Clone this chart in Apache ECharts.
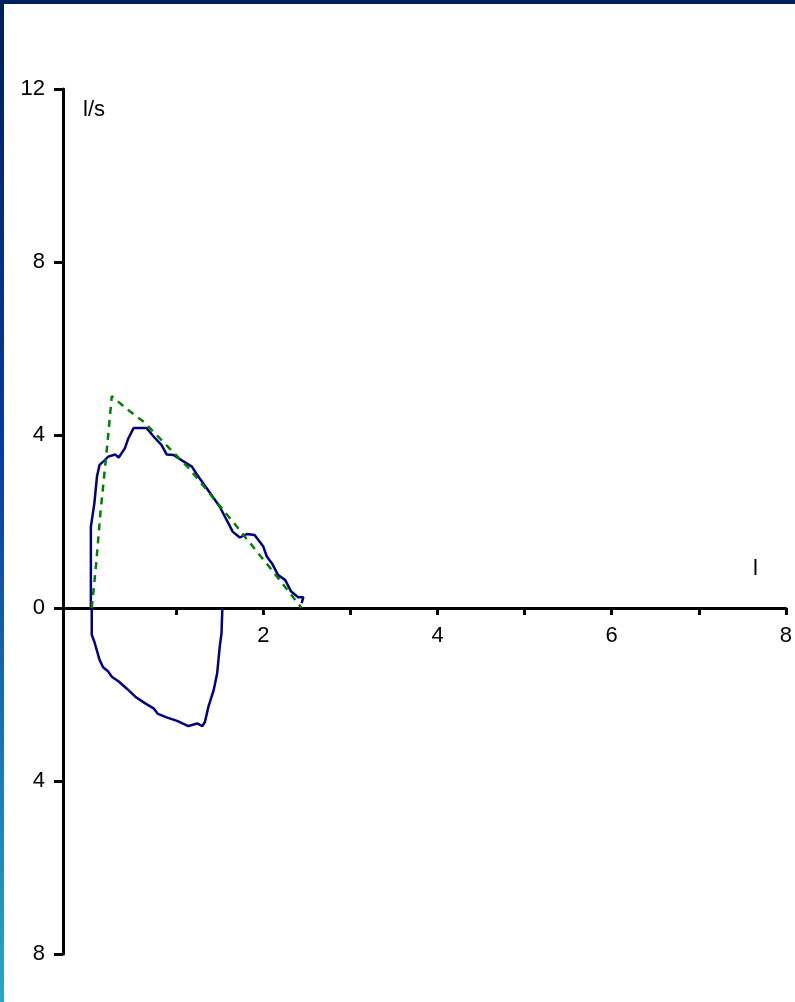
<!DOCTYPE html>
<html>
<head>
<meta charset="utf-8">
<script src="https://cdn.jsdelivr.net/npm/echarts@6/dist/echarts.min.js"></script>
<style>
  html, body { margin: 0; padding: 0; background: #fff; }
  .frame {
    position: relative;
    width: 795px;
    height: 1002px;
    box-sizing: border-box;
    border-top: 4px solid #00205c;
    border-left: 4px solid;
    border-image: linear-gradient(to bottom, #00205c 0%, #0a3aa0 45%, #2aa8c4 100%) 1;
    border-right: 0;
    border-bottom: 0;
    overflow: hidden;
  }
  #chart { position: absolute; left: -4px; top: -4px; width: 795px; height: 1002px; }
  .topbar { position: absolute; left: 0; top: 0; width: 795px; height: 4px; background: #00205c; z-index: 2; }
</style>
</head>
<body>
<div class="topbar"></div>
<div class="frame"><div id="chart"></div></div>
<script>
// measured loop: volume (l) vs flow (l/s)
const expVolume = [0.02, 0.02, 0.06, 0.09, 0.12, 0.18, 0.22, 0.30, 0.34, 0.41, 0.45, 0.51, 0.66, 0.76, 0.83, 0.89, 0.97, 1.06, 1.18, 1.24, 1.35, 1.50, 1.58, 1.65, 1.73, 1.81, 1.90, 2.00, 2.04, 2.10, 2.17, 2.25, 2.32, 2.40, 2.46, 2.44];
const expFlow   = [0.00, 1.88, 2.42, 3.04, 3.31, 3.42, 3.50, 3.55, 3.48, 3.69, 3.92, 4.16, 4.16, 3.92, 3.77, 3.55, 3.54, 3.42, 3.27, 3.08, 2.77, 2.34, 2.03, 1.76, 1.63, 1.71, 1.69, 1.42, 1.19, 1.03, 0.76, 0.65, 0.38, 0.25, 0.25, 0.11];
const inspVolume = [0.03, 0.03, 0.06, 0.12, 0.16, 0.22, 0.26, 0.34, 0.43, 0.53, 0.64, 0.74, 0.79, 0.89, 1.01, 1.14, 1.24, 1.30, 1.33, 1.37, 1.43, 1.47, 1.50, 1.52, 1.53];
const inspFlow   = [0.00, -0.62, -0.78, -1.20, -1.37, -1.47, -1.59, -1.70, -1.86, -2.05, -2.20, -2.32, -2.45, -2.53, -2.61, -2.73, -2.67, -2.73, -2.63, -2.28, -1.90, -1.51, -0.89, -0.58, 0.00];
// predicted curve
const predVolume = [0.03, 0.08, 0.13, 0.17, 0.21, 0.26, 0.42, 0.63, 1.15, 1.66, 2.16, 2.44];
const predFlow   = [0.00, 1.00, 2.20, 3.00, 3.80, 4.90, 4.62, 4.30, 3.22, 1.97, 0.72, 0.00];
// axes
const xTicks  = [1, 2, 3, 4, 5, 6, 7, 8];
const xLabels = [2, 4, 6, 8];

const pairs = (xs, ys) => xs.map((x, i) => [x, ys[i]]);

const myChart = echarts.init(document.getElementById("chart"));
const font = "Liberation Sans, Arial, sans-serif";
const option = {
  animation: false,
  grid: { left: 63, right: 8, top: 89, bottom: 48 },
  xAxis: {
    type: "value",
    position: "bottom",
    offset: -346,
    min: -0.3,
    max: 8,
    name: "l",
    nameLocation: "end",
    nameGap: -33,
    nameTextStyle: { color: "#000", fontSize: 22, fontFamily: font, verticalAlign: "bottom", padding: [0, 0, 28, 0] },
    axisLine: { onZero: false, lineStyle: { color: "#000", width: 3 } },
    axisTick: { show: true, customValues: xTicks, length: 7, lineStyle: { color: "#000", width: 3 } },
    axisLabel: { customValues: xLabels, color: "#000", fontSize: 22, fontFamily: font, margin: 17 },
    splitLine: { show: false }
  },
  yAxis: {
    type: "value",
    min: -8,
    max: 12,
    interval: 4,
    name: "l/s",
    nameLocation: "end",
    nameGap: -32,
    nameTextStyle: { color: "#000", fontSize: 22, fontFamily: font, align: "left", verticalAlign: "bottom", padding: [0, 0, 0, 20] },
    axisLine: { show: true, onZero: false, lineStyle: { color: "#000", width: 3 } },
    axisTick: { show: true, length: 9, lineStyle: { color: "#000", width: 3 } },
    axisLabel: { color: "#000", fontSize: 22, fontFamily: font, margin: 18, formatter: (v) => Math.abs(v) },
    splitLine: { show: false }
  },
  series: [
    {
      name: "Predicted",
      type: "line",
      data: pairs(predVolume, predFlow),
      symbol: "none",
      lineStyle: { color: "#008000", width: 2.5, type: [7, 6] },
      z: 3
    },
    {
      name: "Expiration",
      type: "line",
      data: pairs(expVolume, expFlow),
      symbol: "none",
      lineStyle: { color: "#000080", width: 2.5 },
      z: 2
    },
    {
      name: "Inspiration",
      type: "line",
      data: pairs(inspVolume, inspFlow),
      symbol: "none",
      lineStyle: { color: "#000080", width: 2.5 },
      z: 2
    }
  ]
};
myChart.setOption(option);
</script>
</body>
</html>
